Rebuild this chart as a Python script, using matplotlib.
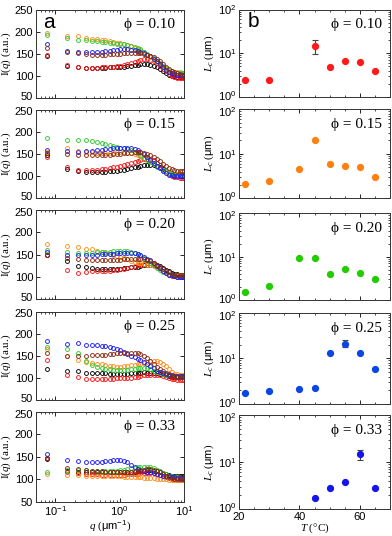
import numpy as np
import matplotlib
matplotlib.use("Agg")
import matplotlib.pyplot as plt
import matplotlib.transforms as mtransforms
from matplotlib.ticker import FixedLocator, MultipleLocator, LogLocator, NullFormatter

plt.rcParams['font.family'] = ['Liberation Sans', 'DejaVu Sans']
plt.rcParams['mathtext.fontset'] = 'custom'
plt.rcParams['mathtext.rm'] = 'Liberation Sans'
plt.rcParams['mathtext.it'] = 'Liberation Serif:italic'

# ---------------- data: panel a ----------------
q = [0.075, 0.15, 0.225, 0.3, 0.375, 0.45, 0.525, 0.6, 0.7, 0.8, 0.9, 1.0, 1.15, 1.3, 1.5,
     1.7, 1.9, 2.1, 2.4, 2.7, 3.0, 3.4, 3.8, 4.2, 4.7, 5.2, 5.8, 6.4, 7.1, 7.8, 8.6, 9.4, 10.0]

series_colors = ['#000000', '#ff1010', '#ff8c1a', '#2ecc2e', '#1a1aff', '#8b2a10']
series_names = ['black', 'red', 'orange', 'green', 'blue', 'brown']

I010_black = [145, 123, 119, 118, 118, 118, 118, 118, 119, 119, 120, 120, 121, 122, 123, 124, 125, 126, 126, 126, 125, 123, 120, 116, 111, 106, 102, 100, 99, 98, 98, 98, 98]
I010_red = [147, 125, 119, 118, 118, 118, 119, 119, 120, 121, 122, 123, 125, 127, 130, 132, 134, 136, 138, 138, 137, 134, 129, 123, 116, 110, 104, 100, 98, 96, 96, 95, 95]
I010_orange = [198, 191, 189, 186, 184, 183, 181, 180, 178, 177, 175, 174, 172, 170, 167, 164, 161, 158, 153, 148, 143, 137, 131, 126, 120, 116, 112, 110, 109, 108, 108, 107, 107]
I010_green = [192, 185, 181, 180, 179, 178, 177, 176, 175, 174, 173, 172, 171, 170, 168, 166, 163, 160, 155, 150, 146, 140, 134, 128, 122, 117, 113, 110, 108, 107, 106, 106, 106]
I010_blue = [172, 156, 154, 153, 153, 154, 155, 156, 157, 158, 159, 160, 160, 160, 159, 158, 156, 154, 151, 148, 144, 139, 133, 127, 120, 114, 109, 106, 104, 103, 102, 102, 102]
I010_brown = [164, 154, 151, 149, 148, 148, 148, 148, 149, 149, 150, 150, 151, 151, 152, 152, 152, 151, 150, 148, 146, 142, 138, 133, 127, 121, 116, 112, 108, 106, 104, 103, 103]

I015_black = [148, 116, 112, 108, 108, 108, 109, 109, 110, 111, 112, 113, 114, 116, 118, 119, 121, 122, 124, 125, 125, 124, 122, 119, 115, 111, 107, 104, 102, 101, 100, 100, 100]
I015_red = [143, 120, 114, 113, 114, 114, 115, 116, 117, 119, 120, 122, 125, 127, 130, 132, 134, 136, 138, 139, 138, 135, 130, 124, 117, 110, 104, 100, 98, 97, 96, 96, 96]
I015_orange = [155, 163, 156, 154, 153, 152, 152, 152, 152, 152, 153, 153, 153, 152, 151, 149, 147, 145, 141, 137, 133, 128, 123, 118, 113, 109, 106, 105, 104, 104, 104, 104, 104]
I015_green = [185, 181, 180, 180, 178, 176, 174, 172, 170, 168, 166, 164, 162, 160, 158, 155, 151, 147, 141, 136, 131, 126, 121, 117, 113, 110, 107, 105, 104, 103, 103, 103, 103]
I015_blue = [159, 156, 155, 156, 157, 158, 159, 160, 161, 162, 163, 163, 164, 164, 163, 161, 158, 155, 149, 143, 137, 130, 123, 117, 111, 106, 103, 101, 100, 100, 99, 99, 99]
I015_brown = [152, 150, 148, 147, 147, 147, 147, 148, 148, 149, 149, 150, 151, 151, 152, 153, 153, 153, 152, 150, 147, 143, 138, 133, 127, 122, 118, 115, 113, 112, 112, 112, 111]

I020_black = [148, 135, 125, 122, 120, 118, 118, 117, 117, 117, 118, 118, 119, 120, 121, 122, 123, 124, 126, 127, 127, 127, 126, 124, 120, 116, 112, 109, 107, 106, 105, 105, 105]
I020_red = [150, 115, 108, 110, 112, 113, 113, 114, 114, 115, 116, 117, 118, 120, 122, 124, 126, 127, 129, 130, 130, 128, 124, 119, 114, 109, 105, 102, 101, 100, 100, 100, 100]
I020_orange = [174, 170, 166, 163, 162, 158, 155, 153, 151, 149, 147, 145, 142, 139, 136, 133, 131, 130, 128, 127, 126, 125, 122, 118, 114, 110, 107, 105, 104, 104, 103, 103, 103]
I020_green = [160, 155, 153, 153, 154, 155, 155, 156, 156, 157, 157, 157, 157, 157, 156, 154, 151, 148, 143, 137, 132, 126, 120, 115, 111, 108, 106, 104, 103, 102, 102, 102, 102]
I020_blue = [156, 150, 148, 148, 149, 150, 151, 151, 152, 152, 153, 153, 154, 154, 154, 153, 151, 149, 145, 141, 137, 131, 125, 119, 113, 109, 105, 103, 101, 100, 100, 100, 100]
I020_brown = [150, 142, 140, 138, 137, 137, 137, 137, 137, 138, 138, 138, 139, 139, 140, 140, 140, 140, 139, 137, 135, 131, 127, 123, 118, 114, 110, 107, 105, 104, 104, 103, 103]

I025_black = [119, 116, 114, 111, 110, 110, 110, 110, 109, 109, 108, 108, 109, 109, 110, 110, 111, 111, 112, 111, 111, 110, 110, 109, 107, 105, 103, 102, 101, 101, 101, 101, 101]
I025_red = [139, 106, 102, 97, 97, 97, 97, 97, 97, 97, 98, 98, 99, 99, 100, 101, 102, 103, 105, 106, 106, 106, 106, 105, 103, 101, 99, 97, 96, 95, 95, 94, 94]
I025_orange = [165, 150, 140, 135, 133, 132, 130, 128, 127, 126, 125, 125, 126, 127, 128, 129, 130, 131, 133, 135, 137, 138, 138, 136, 132, 126, 119, 113, 109, 107, 106, 106, 106]
I025_green = [170, 165, 156, 137, 129, 125, 122, 120, 119, 118, 118, 118, 118, 118, 119, 120, 121, 122, 122, 121, 119, 116, 113, 110, 108, 106, 105, 104, 103, 103, 102, 102, 102]
I025_blue = [184, 177, 178, 175, 175, 174, 173, 172, 170, 168, 165, 162, 158, 154, 149, 146, 143, 140, 136, 131, 126, 121, 116, 113, 110, 108, 106, 105, 104, 104, 104, 103, 103]
I025_brown = [156, 150, 148, 150, 151, 151, 152, 152, 153, 154, 155, 156, 157, 157, 157, 156, 155, 153, 149, 144, 138, 131, 124, 119, 114, 110, 107, 104, 103, 102, 102, 101, 101]

I033_black = [145, 118, 117, 116, 116, 115, 115, 115, 115, 115, 115, 115, 116, 116, 117, 117, 118, 118, 119, 120, 120, 119, 118, 116, 113, 111, 109, 107, 106, 106, 106, 106, 106]
I033_red = [148, 115, 113, 112, 111, 111, 110, 110, 110, 110, 110, 110, 110, 111, 111, 112, 112, 113, 114, 114, 114, 113, 112, 110, 107, 104, 102, 100, 100, 99, 99, 99, 99]
I033_orange = [112, 110, 109, 108, 108, 107, 107, 107, 107, 106, 106, 106, 105, 105, 104, 104, 104, 104, 103, 103, 102, 102, 101, 101, 100, 100, 99, 99, 99, 98, 98, 98, 98]
I033_green = [116, 120, 120, 120, 119, 119, 118, 118, 118, 119, 119, 120, 121, 122, 124, 125, 126, 127, 128, 128, 127, 125, 121, 118, 114, 111, 108, 106, 105, 104, 103, 103, 103]
I033_blue = [157, 143, 140, 139, 139, 139, 139, 140, 141, 142, 143, 143, 141, 138, 132, 127, 123, 121, 119, 117, 115, 113, 111, 110, 108, 107, 106, 105, 104, 103, 103, 102, 102]
I033_brown = [148, 125, 122, 120, 119, 118, 118, 117, 117, 116, 116, 116, 116, 117, 117, 118, 119, 120, 121, 122, 122, 121, 119, 116, 112, 108, 105, 103, 101, 100, 100, 100, 100]

phi_labels = ['0.10', '0.15', '0.20', '0.25', '0.33']
panel_a = [
    [I010_black, I010_red, I010_orange, I010_green, I010_blue, I010_brown],
    [I015_black, I015_red, I015_orange, I015_green, I015_blue, I015_brown],
    [I020_black, I020_red, I020_orange, I020_green, I020_blue, I020_brown],
    [I025_black, I025_red, I025_orange, I025_green, I025_blue, I025_brown],
    [I033_black, I033_red, I033_orange, I033_green, I033_blue, I033_brown],
]

# ---------------- data: panel b ----------------
T010 = [22, 30, 45, 50, 55, 60, 65]
L010 = [2.4, 2.5, 15.0, 4.9, 6.8, 6.4, 3.9]
T015 = [22, 30, 40, 45, 50, 55, 60, 65]
L015 = [2.1, 2.4, 4.6, 20.0, 5.9, 5.4, 5.1, 3.0]
T020 = [22, 30, 40, 45, 50, 55, 60, 65]
L020 = [1.55, 2.1, 9.4, 9.3, 3.9, 5.2, 4.2, 3.0]
T025 = [22, 30, 40, 45, 50, 55, 60, 65]
L025 = [1.7, 1.95, 2.1, 2.25, 12.8, 21.0, 13.1, 5.9]
T033 = [45, 50, 55, 60, 65]
L033 = [1.75, 2.75, 3.7, 14.5, 2.75]

# error bars: (T, lower, upper)
err010 = (45, 9.5, 20.0)
err025 = (55, 17.3, 25.0)
err033 = (60, 11.0, 17.9)

panel_b = [
    (T010, L010, '#ff1a1a', err010),
    (T015, L015, '#ff8010', None),
    (T020, L020, '#22cc00', None),
    (T025, L025, '#0a46e6', err025),
    (T033, L033, '#1414f0', err033),
]

# ---------------- layout ----------------
W, H = 392, 536
fig = plt.figure(figsize=(W / 100, H / 100), dpi=100)

left_tops = [9.5, 109.5, 210, 311.7, 412]
left_bots = [98, 198, 299, 399.5, 501.5]
right_tops = [9.5, 109.3, 213.3, 312.7, 415]
right_bots = [97, 198.3, 300, 404, 509]
lx0, lx1 = 36, 184
rx0, rx1 = 239, 390

serif = ['Liberation Serif', 'DejaVu Serif']
tick_fs = 8

def style_axes(ax):
    ax.tick_params(which='both', direction='in', top=True, right=True, labelsize=tick_fs, pad=2)
    ax.tick_params(which='major', length=3, width=0.6)
    ax.tick_params(which='minor', length=1.6, width=0.5)
    for s in ax.spines.values():
        s.set_linewidth(0.7)
        s.set_color('#333333')

def shift_labels(ax, dy_bottom, dy_top):
    """nudge the lowest / highest y tick labels vertically (in points)"""
    fig.canvas.draw()
    labels = ax.get_yticklabels()
    ticks = ax.get_yticks()
    lo, hi = ax.get_ylim()
    for t, lab in zip(ticks, labels):
        if abs(t - lo) < 1e-9 * max(1, abs(lo)) and dy_bottom:
            lab.set_transform(lab.get_transform() + mtransforms.ScaledTranslation(0, dy_bottom / 72, fig.dpi_scale_trans))
        if abs(t - hi) < 1e-9 * max(1, abs(hi)) and dy_top:
            lab.set_transform(lab.get_transform() + mtransforms.ScaledTranslation(0, dy_top / 72, fig.dpi_scale_trans))

left_axes, right_axes = [], []
for i in range(5):
    # panel a
    ax = fig.add_axes([lx0 / W, 1 - left_bots[i] / H, (lx1 - lx0) / W, (left_bots[i] - left_tops[i]) / H])
    for vals, col in zip(panel_a[i], series_colors):
        ax.plot(q, vals, linestyle='none', marker='o', ms=2.8, mfc='none', mec=col, mew=0.65)
    ax.set_xscale('log')
    ax.set_xlim(0.05, 10)
    ax.set_ylim(50, 250)
    ax.yaxis.set_major_locator(MultipleLocator(50))
    style_axes(ax)
    if i < 4:
        ax.tick_params(labelbottom=False)
    else:
        ax.set_xlabel(r'$q$ ($\mathrm{\mu m^{-1}}$)', family=serif, fontsize=8, labelpad=0.5)
    ax.set_ylabel(r'I($q$) (a.u.)', family=serif, fontsize=8, labelpad=1)
    ax.text(0.94, 0.835, '\u03d5 = ' + phi_labels[i], transform=ax.transAxes, ha='right', va='center',
            family=serif, fontsize=11)
    if i == 0:
        ax.text(0.045, 0.85, 'a', transform=ax.transAxes, ha='left', va='center', fontsize=15)
    left_axes.append(ax)

    # panel b
    bx = fig.add_axes([rx0 / W, 1 - right_bots[i] / H, (rx1 - rx0) / W, (right_bots[i] - right_tops[i]) / H])
    T, L, col, err = panel_b[i]
    if err is not None:
        te, lo, hi = err
        j = T.index(te)
        bx.errorbar([te], [L[j]], yerr=[[L[j] - lo], [hi - L[j]]], fmt='none', ecolor='#444444',
                    elinewidth=0.8, capsize=2.2, capthick=0.8, zorder=2)
    bx.plot(T, L, linestyle='none', marker='o', ms=4.2, mfc=col, mec=col, zorder=3)
    bx.set_yscale('log')
    bx.set_ylim(1, 100)
    bx.set_xlim(20, 70)
    bx.xaxis.set_major_locator(FixedLocator([20, 40, 60]))
    bx.xaxis.set_minor_locator(MultipleLocator(5))
    bx.yaxis.set_major_locator(LogLocator(base=10, numticks=5))
    bx.yaxis.set_minor_locator(LogLocator(base=10, subs=np.arange(2, 10), numticks=20))
    bx.yaxis.set_minor_formatter(NullFormatter())
    style_axes(bx)
    if i < 4:
        bx.tick_params(labelbottom=False)
    else:
        bx.tick_params(axis='x', pad=2)
        bx.set_xlabel('$T$ (\u00b0C)', family=serif, fontsize=8, labelpad=0)
    bx.set_ylabel(r'$L_c$ ($\mathrm{\mu m}$)', family=serif, fontsize=8, labelpad=1)
    bx.text(0.95, 0.83, '\u03d5 = ' + phi_labels[i], transform=bx.transAxes, ha='right', va='center',
            family=serif, fontsize=11)
    if i == 0:
        bx.text(0.058, 0.86, 'b', transform=bx.transAxes, ha='left', va='center', fontsize=15)
    right_axes.append(bx)

for k, bx in enumerate(right_axes):
    shift_labels(bx, 1.6 if k < 4 else 1.6, -1.6 if k > 0 else 0)
for k, ax in enumerate(left_axes):
    shift_labels(ax, 1.2 if k < 4 else 0, -1.2 if k > 0 else 0)

fig.savefig('out.png', dpi=100)
